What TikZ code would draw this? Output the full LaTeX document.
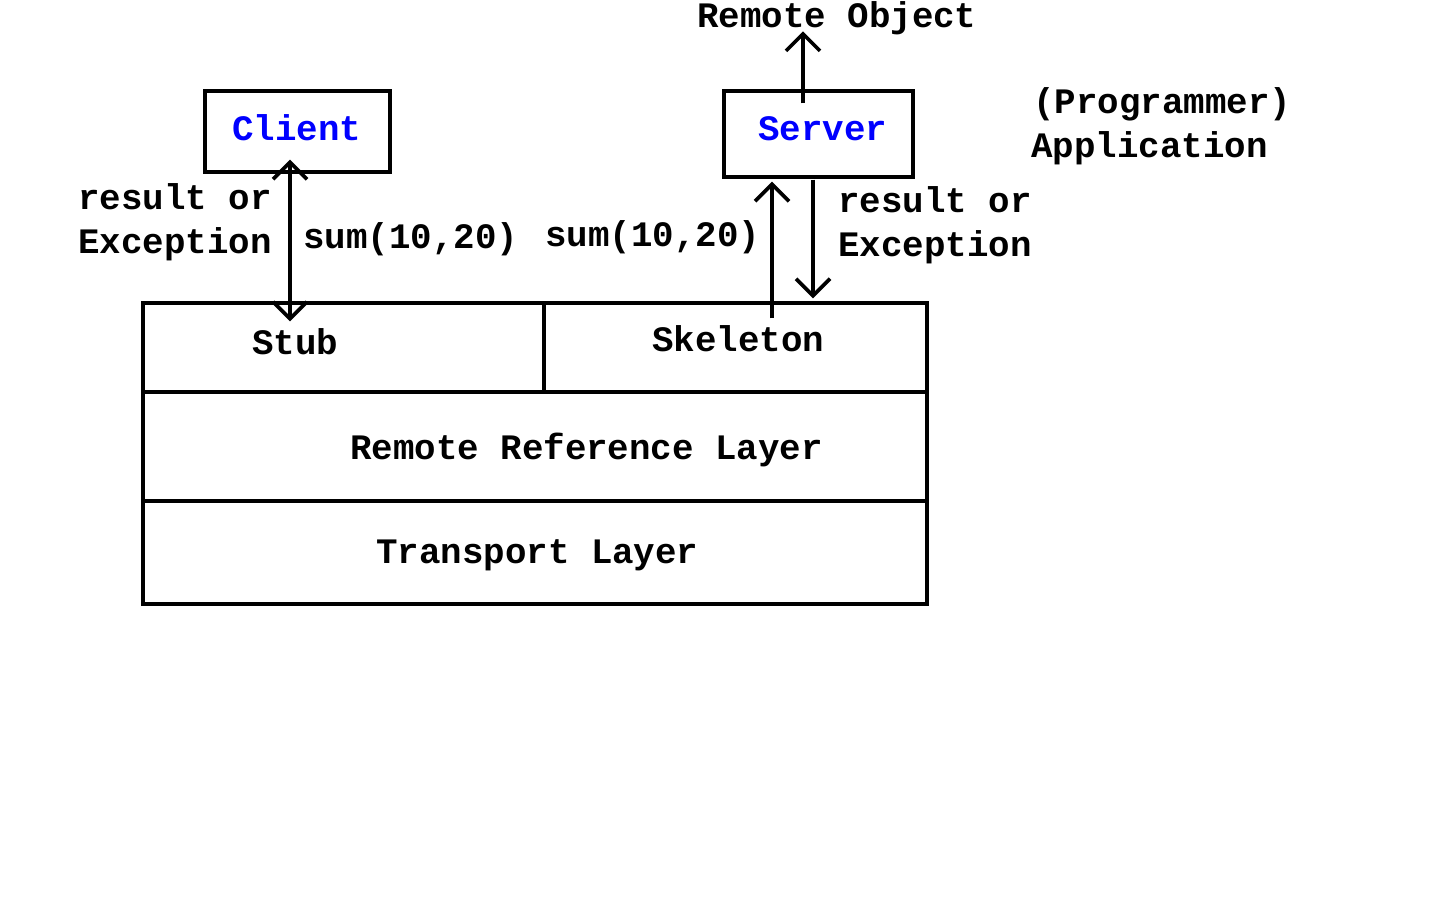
\documentclass[tikz,border=0pt]{standalone}
\usepackage{fontspec}
\setmainfont{Liberation Mono}
\usetikzlibrary{arrows.meta}
\definecolor{pureblue}{RGB}{0,0,255}
\begin{document}
\begin{tikzpicture}[x=1pt,y=-1pt,
  lbl/.style={font=\fontsize{35.8}{40}\selectfont\bfseries, inner sep=0pt},
  cell/.style={draw, line width=3.4pt, inner sep=0pt},
  tip/.tip={Straight Barb[length=17pt,width=34pt]},
  arr/.style={line width=3.6pt, -tip},
  darr/.style={line width=3.6pt, tip-tip}]
\useasboundingbox (0,0) rectangle (1440,900);
% boxes
\node[cell, minimum width=185pt, minimum height=81pt] (client) at (297.5,131.5) {};
\node[cell, minimum width=189pt, minimum height=86pt] (server) at (818.5,134) {};
\node[cell, minimum width=401pt, minimum height=89pt] (stub) at (343.5,347.5) {};
\node[cell, minimum width=383pt, minimum height=89pt] (skel) at (735.5,347.5) {};
\node[cell, minimum width=784pt, minimum height=109pt] (rrl) at (535,446.5) {};
\node[cell, minimum width=784pt, minimum height=103pt] (trans) at (535,552.5) {};
% texts
\node[lbl, anchor=base west, text=pureblue] (tclient) at (232,140) {Client};
\node[lbl, anchor=base west, text=pureblue] (tserver) at (758,140) {Server};
\node[lbl, anchor=base west] (tremote) at (697,27) {Remote Object};
\node[lbl, anchor=base west] (tprog) at (1033,113) {(Programmer)};
\node[lbl, anchor=base west] (tapp) at (1031,157) {Application};
\node[lbl, anchor=base west] (tres1) at (78,209) {result or};
\node[lbl, anchor=base west] (texc1) at (78,253) {Exception};
\node[lbl, anchor=base west] (tsum1) at (303,248) {sum(10,20)};
\node[lbl, anchor=base west] (tsum2) at (545,246) {sum(10,20)};
\node[lbl, anchor=base west] (tres2) at (838,212) {result or};
\node[lbl, anchor=base west] (texc2) at (838,256) {Exception};
\node[lbl, anchor=base west] (tstub) at (252,354) {Stub};
\node[lbl, anchor=base west] (tskel) at (652,351) {Skeleton};
\node[lbl, anchor=base west] (trrl) at (350,459) {Remote Reference Layer};
\node[lbl, anchor=base west] (ttrans) at (376,563) {Transport Layer};
% connectors
\draw[darr] ([xshift=-7.5pt,yshift=14pt]client.south) -- ([xshift=-53.5pt,yshift=-20pt]stub.north);
\draw[arr] ([xshift=-15.5pt,yshift=-14pt]server.north) -- ([xshift=-15.5pt,yshift=58pt]server.north);
\draw[arr] ([xshift=36.5pt,yshift=-17pt]skel.north) -- ([xshift=-46.5pt,yshift=-3pt]server.south);
\draw[arr] ([xshift=-5.5pt,yshift=-1pt]server.south) -- ([xshift=77.5pt,yshift=3pt]skel.north);
\end{tikzpicture}
\end{document}
